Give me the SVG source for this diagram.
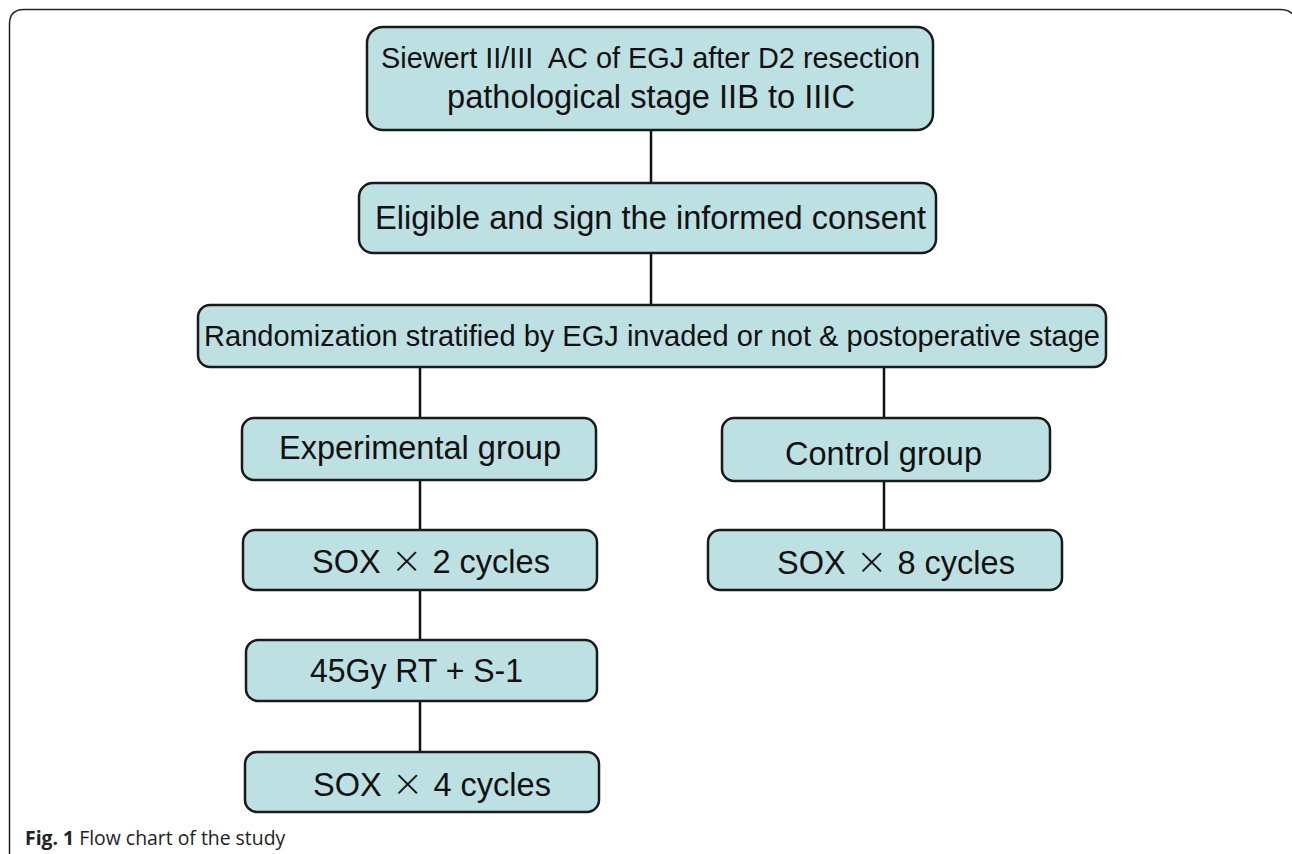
<svg xmlns="http://www.w3.org/2000/svg" width="1292" height="854" viewBox="0 0 1292 854">
<style>
.box{fill:#bde0e2;stroke:#1a1a1a;stroke-width:2.5}
.t{font-family:"Liberation Sans",Arial,sans-serif;fill:#111;text-anchor:middle;font-size:32.5px}
.s{font-family:"Liberation Sans",Arial,sans-serif;fill:#111;font-size:32.5px}
.x{font-size:38px;font-family:"DejaVu Sans","Liberation Sans",sans-serif;font-weight:200}
.c{stroke:#111;stroke-width:2.5;fill:none}
</style>
<rect x="0" y="0" width="1292" height="854" fill="#fff"/>
<path d="M9.5 870 V24 Q9.5 9.5 24 9.5 H1280 Q1290 9.5 1294 16" fill="none" stroke="#222" stroke-width="1.5"/>
<g id="connectors">
<line class="c" x1="651" y1="130" x2="651" y2="183"/>
<line class="c" x1="651" y1="253" x2="651" y2="305"/>
<line class="c" x1="420" y1="367" x2="420" y2="418"/>
<line class="c" x1="884" y1="367" x2="884" y2="418"/>
<line class="c" x1="420" y1="480" x2="420" y2="530"/>
<line class="c" x1="884" y1="481" x2="884" y2="530"/>
<line class="c" x1="420" y1="590" x2="420" y2="640"/>
<line class="c" x1="420" y1="701" x2="420" y2="752"/>
</g>
<g id="n1"><rect class="box" x="367" y="27" width="566" height="103" rx="16"/>
<text class="t" x="650.5" y="68" style="font-size:29px" textLength="539" lengthAdjust="spacingAndGlyphs">Siewert II/III&#160; AC of EGJ after D2 resection</text>
<text class="t" x="651" y="108" style="font-size:33px" textLength="408" lengthAdjust="spacingAndGlyphs">pathological stage IIB to IIIC</text></g>
<g id="n2"><rect class="box" x="359" y="183" width="577" height="70" rx="14"/>
<text class="t" x="650.5" y="229" textLength="551" lengthAdjust="spacingAndGlyphs">Eligible and sign the informed consent</text></g>
<g id="n3"><rect class="box" x="198" y="305" width="908" height="62" rx="12"/>
<text class="t" x="652" y="346" style="font-size:30px" textLength="896" lengthAdjust="spacingAndGlyphs">Randomization stratified by EGJ invaded or not &amp; postoperative stage</text></g>
<g id="n4"><rect class="box" x="242" y="418" width="354" height="62" rx="12"/>
<text class="t" x="420" y="459" textLength="282" lengthAdjust="spacingAndGlyphs">Experimental group</text></g>
<g id="n5"><rect class="box" x="722" y="418" width="328" height="63" rx="12"/>
<text class="t" x="883.5" y="465" textLength="197" lengthAdjust="spacingAndGlyphs">Control group</text></g>
<g id="n6"><rect class="box" x="243" y="530" width="354" height="60" rx="12"/>
<text class="s" x="312" y="573">SOX<tspan class="x" dx="10">×</tspan><tspan dx="10">2 cycles</tspan></text></g>
<g id="n7"><rect class="box" x="708" y="530" width="354" height="60" rx="12"/>
<text class="s" x="777" y="574">SOX<tspan class="x" dx="10">×</tspan><tspan dx="10">8 cycles</tspan></text></g>
<g id="n8"><rect class="box" x="246" y="640" width="351" height="61" rx="12"/>
<text class="t" x="416.5" y="682" textLength="213" lengthAdjust="spacingAndGlyphs">45Gy RT + S-1</text></g>
<g id="n9"><rect class="box" x="245" y="752" width="354" height="60" rx="12"/>
<text class="s" x="313" y="796">SOX<tspan class="x" dx="10">×</tspan><tspan dx="10">4 cycles</tspan></text></g>
<text x="25" y="845" font-family="'Open Sans','Noto Sans',sans-serif" font-size="19.4" fill="#222"><tspan font-weight="bold">Fig. 1</tspan> Flow chart of the study</text>
</svg>
